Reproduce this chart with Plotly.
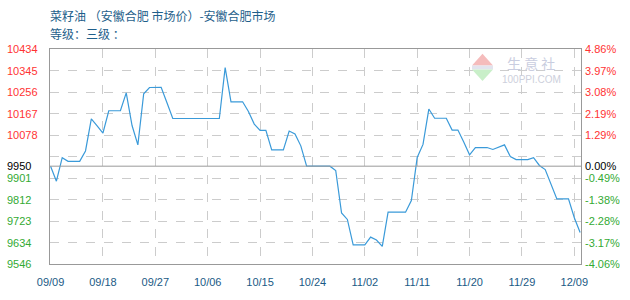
import plotly.graph_objects as go
import pandas as pd

# ---- data ----
all_days = pd.date_range("2019-09-09", "2019-12-10")
dates = [d.strftime("%m/%d") for d in all_days if d.strftime("%m/%d") != "12/01"]

prices = [
    9950, 9888, 9985, 9970, 9970, 9970, 10013, 10145, 10116, 10087,
    10179, 10179, 10179, 10253, 10118, 10038, 10249, 10275, 10276, 10276,
    10212, 10147, 10147, 10147, 10147, 10147, 10147, 10147, 10147, 10147,
    10357, 10216, 10216, 10216, 10176, 10124, 10098, 10098, 10017, 10017,
    10017, 10095, 10083, 10034, 9950, 9950, 9950, 9950, 9950, 9932,
    9757, 9730, 9625, 9625, 9625, 9657, 9645, 9619, 9760, 9760,
    9760, 9760, 9808, 9986, 10040, 10186, 10148, 10148, 10148, 10099,
    10099, 10050, 9997, 10027, 10027, 10027, 10019, 10030, 10038, 9990,
    9977, 9977, 9977, 9985, 9953, 9936, 9877, 9815, 9815, 9815,
    9737, 9676,
]

x_tick_labels = ["09/09", "09/18", "09/27", "10/06", "10/15", "10/24",
                 "11/02", "11/11", "11/20", "11/29", "12/09"]

base_price = 9950
y_min, y_max = 9546, 10434
grid_values = [10434, 10345, 10256, 10167, 10078, 9989, 9901, 9812, 9723, 9634, 9546]
left_labels = ["10434", "10345", "10256", "10167", "10078", "9950",
               "9901", "9812", "9723", "9634", "9546"]
left_label_values = [10434, 10345, 10256, 10167, 10078, 9950, 9901, 9812, 9723, 9634, 9546]
right_labels = ["4.86%", "3.97%", "3.08%", "2.19%", "1.29%", "0.00%",
                "-0.49%", "-1.38%", "-2.28%", "-3.17%", "-4.06%"]

title_line1 = "菜籽油 （安徽合肥 市场价）-安徽合肥市场"
title_line2 = "等级：三级 ："

# ---- geometry helpers (pixel -> paper) ----
W, H = 630, 300
L, R, T, B = 50, 49, 49, 30
PW, PH = W - L - R, H - T - B


def px(x):
    return (x - L) / PW


def py(y):
    return (H - B - y) / PH


RED, GREEN, BLACK = "#ff3333", "#33aa33", "#000000"
TICK_FONT = "Liberation Sans, Arial, sans-serif"

fig = go.Figure()
fig.add_trace(go.Scatter(
    x=dates, y=prices, mode="lines",
    line=dict(color="#3a9ad9", width=1.2),
    hoverinfo="x+y", showlegend=False,
))

annotations = []
# left price labels
for lab, v in zip(left_labels, left_label_values):
    col = RED if v > base_price else (BLACK if v == base_price else GREEN)
    annotations.append(dict(
        xref="paper", yref="y", x=px(5), y=v, xanchor="left", yanchor="middle",
        text=lab, showarrow=False, font=dict(family=TICK_FONT, size=11, color=col)))
# right percent labels
for lab, v in zip(right_labels, left_label_values):
    col = RED if v > base_price else (BLACK if v == base_price else GREEN)
    annotations.append(dict(
        xref="paper", yref="y", x=px(583), y=v, xanchor="left", yanchor="middle",
        text=lab, showarrow=False, font=dict(family=TICK_FONT, size=11, color=col)))
# titles
annotations.append(dict(
    xref="paper", yref="paper", x=px(48), y=py(15), xanchor="left", yanchor="middle",
    text=title_line1, showarrow=False,
    font=dict(family="Noto Sans CJK SC", size=12, color="#1f5f8b")))
annotations.append(dict(
    xref="paper", yref="paper", x=px(48), y=py(33), xanchor="left", yanchor="middle",
    text=title_line2, showarrow=False,
    font=dict(family="Noto Sans CJK SC", size=12, color="#1f5f8b")))
# watermark texts
annotations.append(dict(
    xref="paper", yref="paper", x=px(531), y=py(63), xanchor="center", yanchor="middle",
    text="生 意 社", showarrow=False, borderpad=0,
    font=dict(family="Noto Sans CJK SC", size=14, color="#c9cde0")))
annotations.append(dict(
    xref="paper", yref="paper", x=px(531), y=py(80), xanchor="center", yanchor="middle",
    text="100PPI.COM", showarrow=False, borderpad=0,
    font=dict(family=TICK_FONT, size=10, color="#cdd0dc")))

shapes = []
# baseline at 0%
shapes.append(dict(type="line", xref="paper", yref="y", x0=0, x1=1,
                   y0=base_price, y1=base_price, line=dict(color="#999999", width=1)))
# watermark logo triangles
shapes.append(dict(type="path", xref="paper", yref="paper",
                   path=f"M {px(472)} {py(66)} L {px(493)} {py(66)} L {px(482.5)} {py(54)} Z",
                   fillcolor="#f5bcbc", line=dict(width=0)))
shapes.append(dict(type="rect", xref="paper", yref="paper",
                   x0=px(472), x1=px(493), y0=py(70), y1=py(66),
                   fillcolor="#e2e4ee", line=dict(width=0)))
shapes.append(dict(type="path", xref="paper", yref="paper",
                   path=f"M {px(472)} {py(70)} L {px(493)} {py(70)} L {px(482.5)} {py(82)} Z",
                   fillcolor="#c9efc9", line=dict(width=0)))

fig.update_layout(
    width=W, height=H,
    margin=dict(l=L, r=R, t=T, b=B),
    paper_bgcolor="white", plot_bgcolor="white",
    annotations=annotations, shapes=shapes,
    xaxis=dict(
        type="category", range=[-0.1, 91.15],
        tickmode="array", tickvals=x_tick_labels, ticktext=x_tick_labels,
        showgrid=True, gridcolor="#cccccc", griddash="dash", gridwidth=1,
        showline=True, linecolor="#999999", linewidth=1, mirror=True,
        ticks="", tickfont=dict(family=TICK_FONT, size=11, color="#1a5a85"),
        ticklabelstandoff=8, zeroline=False, fixedrange=True,
    ),
    yaxis=dict(
        range=[y_min, y_max], tickmode="array", tickvals=grid_values,
        showticklabels=False, showgrid=True, gridcolor="#cccccc", griddash="dash",
        gridwidth=1, showline=True, linecolor="#999999", linewidth=1, mirror=True,
        ticks="", zeroline=False, fixedrange=True,
    ),
)

fig.write_html("out.html")
